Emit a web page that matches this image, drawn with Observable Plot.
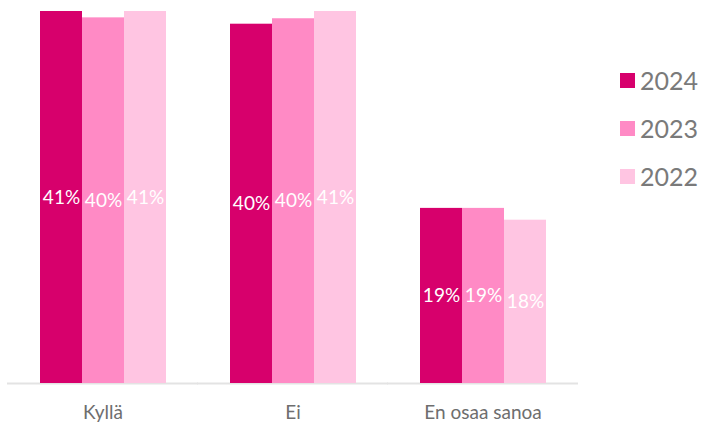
<!DOCTYPE html>
<html>
<head>
<meta charset="utf-8">
<script src="https://cdn.jsdelivr.net/npm/d3@7"></script>
<script src="https://cdn.jsdelivr.net/npm/@observablehq/plot@0.6"></script>
<style>
  body { margin: 0; background: #fff; font-family: Lato, "Open Sans", sans-serif; }
  #wrap { position: relative; width: 705px; height: 424px; }
  .legend { position: absolute; left: 620px; top: 0; }
  .legend .item { position: absolute; left: 0; display: flex; align-items: center; white-space: nowrap; }
  .legend .sw { width: 15px; height: 15px; margin-right: 5px; }
  .legend .lab { font-size: 25px; color: #7a7a7a; line-height: 26px; }
</style>
</head>
<body>
<div id="wrap"></div>
<script>
const categories = ["Kyllä", "Ei", "En osaa sanoa"];
const years = ["2024", "2023", "2022"];
const colors = ["#d7006c", "#ff8ac5", "#ffc5e2"];
const values2024 = [41.0, 39.6, 19.3];
const values2023 = [40.3, 40.2, 19.3];
const values2022 = [41.0, 41.0, 18.0];

const series = { "2024": values2024, "2023": values2023, "2022": values2022 };
const data = [];
categories.forEach((c, i) => years.forEach(y => data.push({ category: c, year: y, value: series[y][i] })));

const chart = Plot.plot({
  width: 705,
  height: 424,
  marginLeft: 8,
  marginRight: 127,
  marginTop: 11,
  marginBottom: 41,
  style: { fontFamily: "Lato, 'Open Sans', sans-serif", background: "#fff" },
  fx: { domain: categories, paddingInner: 0.33, paddingOuter: 0.165, label: null, axis: null },
  x: { domain: years, padding: 0, axis: null },
  y: { domain: [0, 41], axis: null },
  color: { domain: years, range: colors },
  marks: [
    Plot.axisFx({ anchor: "bottom", tickSize: 0, tickPadding: 22, fontSize: 19, fill: "#6e6e6e", label: null }),
    Plot.ruleY([0], { stroke: "#e3e3e3", strokeWidth: 2, insetLeft: -32, insetRight: -32 }),
    Plot.barY(data, { fx: "category", x: "year", y: "value", fill: "year" }),
    Plot.text(data, { fx: "category", x: "year", y: d => d.value / 2, text: d => Math.round(d.value) + "%", fill: "white", fontSize: 19 })
  ]
});
document.getElementById("wrap").appendChild(chart);

const legend = document.createElement("div");
legend.className = "legend";
years.forEach((y, i) => {
  const item = document.createElement("div");
  item.className = "item";
  item.style.top = (67 + i * 48) + "px";
  item.innerHTML = `<div class="sw" style="background:${colors[i]}"></div><span class="lab">${y}</span>`;
  legend.appendChild(item);
});
document.getElementById("wrap").appendChild(legend);
</script>
</body>
</html>
